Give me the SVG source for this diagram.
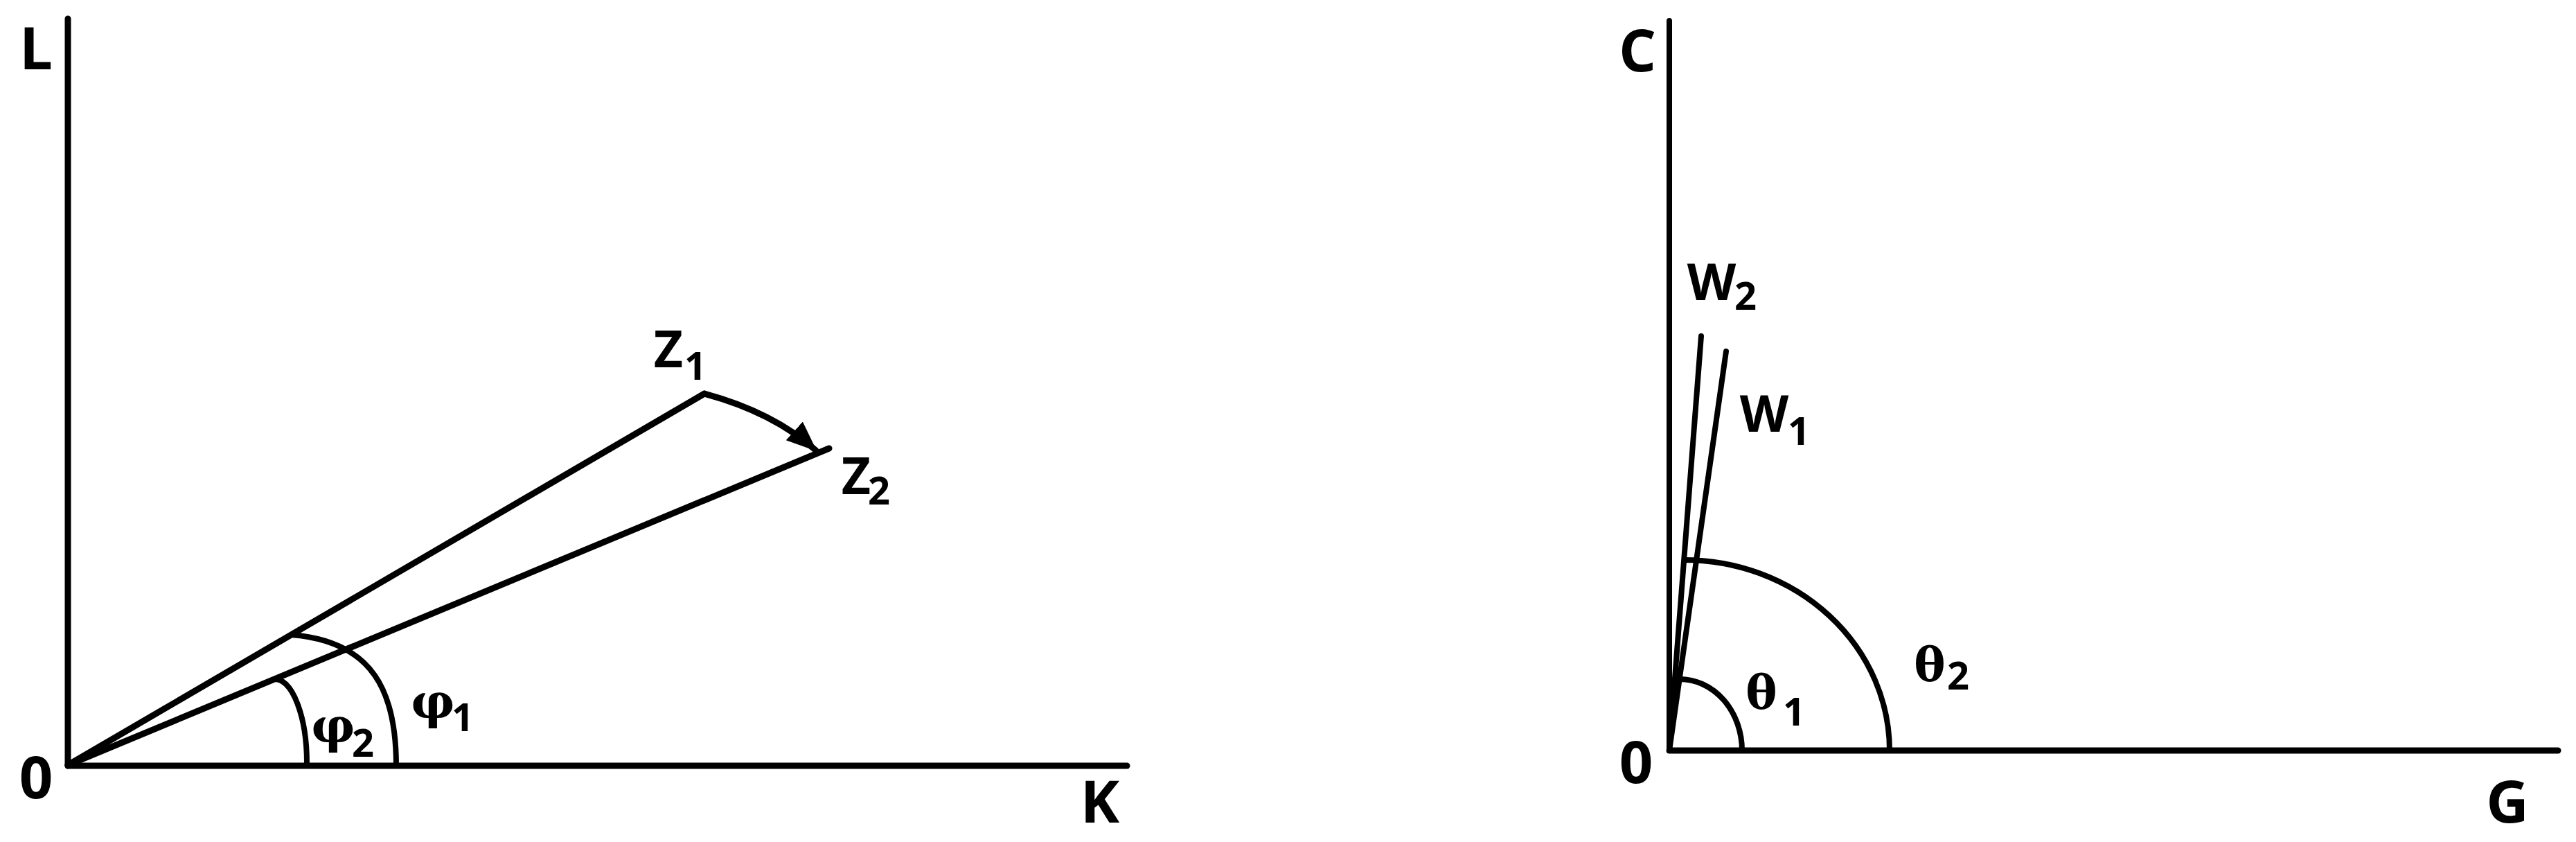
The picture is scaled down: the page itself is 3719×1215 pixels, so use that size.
<svg xmlns="http://www.w3.org/2000/svg" width="3719" height="1215" viewBox="0 0 3719 1215">
<style>
.ln{fill:none;stroke:#000;stroke-width:9;stroke-linecap:round;stroke-linejoin:round}
.arc{fill:none;stroke:#000;stroke-width:8;stroke-linecap:butt}
.lab{font-family:"Open Sans","Liberation Sans",sans-serif;font-weight:bold;fill:#000;text-anchor:middle}
.ax{font-size:85px}
.pt{font-size:73px}
.sub{font-size:56px}
.gr{font-family:"DejaVu Serif","Liberation Serif",serif;font-weight:bold;fill:#000;text-anchor:middle}
</style>
<defs>
<marker id="ah2" viewBox="0 0 44 40" refX="42" refY="20" markerWidth="44" markerHeight="40" orient="auto" markerUnits="userSpaceOnUse">
<path d="M0,2 L44,20 L0,38 Z" fill="#000"/>
</marker>
</defs>
<rect width="3719" height="1215" fill="#fff"/>

<g id="left-chart">
<g id="axis-L"><line class="ln" x1="98" y1="27" x2="98" y2="1105"/><text class="lab ax" x="52" y="100">L</text></g>
<g id="axis-K"><line class="ln" x1="98" y1="1105" x2="1627" y2="1105"/><text class="lab ax" x="1588" y="1187">K</text></g>
<g id="origin-left"><text class="lab ax" x="52" y="1152">0</text></g>
<g id="Z1"><text class="lab pt" x="965" y="530">Z</text><text class="lab sub" x="1004" y="548">1</text></g>
<g id="Z2"><text class="lab pt" x="1236" y="713">Z</text><text class="lab sub" x="1269" y="728">2</text></g>
<g id="phi1-label"><text class="gr" x="625" y="1037" font-size="70">φ</text><text class="lab sub" x="668" y="1055">1</text></g>
<g id="phi2-label"><text class="gr" x="481" y="1072" font-size="70">φ</text><text class="lab sub" x="524" y="1092">2</text></g>
</g>

<g id="right-chart">
<g id="axis-C"><line class="ln" x1="2410" y1="30" x2="2410" y2="1083" style="stroke-width:8"/><text class="lab ax" x="2364" y="103">C</text></g>
<g id="axis-G"><line class="ln" x1="2410" y1="1083" x2="3693" y2="1083"/><text class="lab ax" x="3620" y="1187">G</text></g>
<g id="origin-right"><text class="lab ax" x="2362" y="1130">0</text></g>
<g id="W2"><text class="lab pt" x="2471" y="433">W</text><text class="lab sub" x="2520" y="447">2</text></g>
<g id="W1"><text class="lab pt" x="2547" y="623">W</text><text class="lab sub" x="2597" y="642">1</text></g>
<g id="theta1-label"><text class="gr" x="2543" y="1022" font-size="68">θ</text><text class="lab sub" x="2590" y="1047">1</text></g>
<g id="theta2-label"><text class="gr" x="2786" y="982" font-size="68">θ</text><text class="lab sub" x="2827" y="995">2</text></g>
</g>

<g id="connectors">
<line class="ln" x1="98" y1="1104" x2="1017" y2="568"/>
<line class="ln" x1="98" y1="1104" x2="1197" y2="647"/>
<path class="ln" d="M1017,568 Q1117,595 1178,650" marker-end="url(#ah2)"/>
<path class="arc" d="M443,1105 A46,122 0 0 0 395,980"/>
<path class="arc" d="M572,1105 C572,1000 540,925 420,916"/>
<line class="ln" x1="2410" y1="1083" x2="2456" y2="485" style="stroke-width:8"/>
<line class="ln" x1="2410" y1="1083" x2="2492" y2="507" style="stroke-width:8"/>
<path class="arc" d="M2515,1083 A90,103 0 0 0 2425,980"/>
<path class="arc" d="M2728,1083 A297,275 0 0 0 2431,808"/>
</g>
</svg>
